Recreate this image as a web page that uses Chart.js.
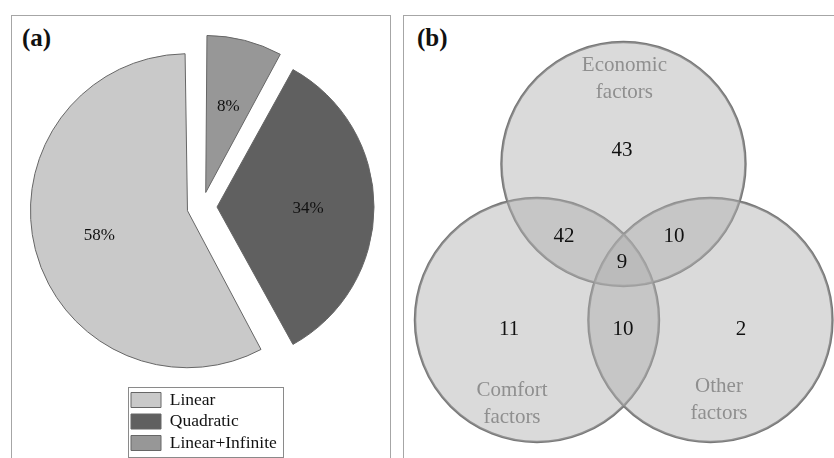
<!DOCTYPE html>
<html>
<head>
<meta charset="utf-8">
<script src="https://cdn.jsdelivr.net/npm/chart.js@4.4.1/dist/chart.umd.min.js"></script>
<style>
html,body{margin:0;padding:0;width:834px;height:458px;overflow:hidden;background:#fff;}
.frame{position:absolute;border:1px solid #a6a6a6;box-sizing:border-box;}
.tag{position:absolute;font-family:"Liberation Serif","Times New Roman",serif;font-weight:bold;font-size:25px;line-height:25px;color:#111;}
canvas{position:absolute;top:0;}
</style>
</head>
<body>
<div class="frame" style="left:11px;top:15px;width:380px;height:470px"></div>
<div class="frame" style="left:403px;top:15px;width:450px;height:470px"></div>
<div class="tag" style="left:22px;top:25px">(a)</div>
<div class="tag" style="left:417px;top:25px">(b)</div>
<canvas id="pie" style="left:0;width:400px;height:470px"></canvas>
<canvas id="venn" style="left:400px;width:434px;height:458px"></canvas>
<script>
// ---------- Panel (a): pie data ----------
const pieLabels = ['Linear+Infinite', 'Quadratic', 'Linear'];
const pieValues = [8, 34, 58];
const pieColors = ['#979797', '#606060', '#c9c9c9'];

// ---------- Panel (b): Venn data (units: circle radius = 1) ----------
const vennSetNames = [['Economic', 'factors'], ['Comfort', 'factors'], ['Other', 'factors']];
const vennSetX = [0.004, -0.705, 0.717];
const vennSetY = [0.787, -0.492, -0.492];
const vennSetR = [1.0, 1.0, 1.0];
const vennNameX = [0.012, -0.91, 0.787];
const vennNameY = [1.50, -1.16, -1.13];
const regionCounts = [43, 42, 10, 9, 11, 10, 2];
const regionX = [-0.008, -0.484, 0.418, -0.008, -0.934, 0.0, 0.967];
const regionY = [0.91, 0.205, 0.205, 0.0, -0.557, -0.557, -0.557];

const SERIF = '"Liberation Serif", "Times New Roman", serif';
const PIE_RADIUS = 157;
const PIE_OFFSET = 60;

const pieDecor = {
  id: 'pieDecor',
  afterDatasetUpdate(chart, args) {
    // keep all exploded slices at the same radius
    args.meta.data.forEach((arc) => {
      const off = (arc.options.offset || 0) / 4;
      const fix = 1 - Math.sin(Math.min(Math.PI, arc.circumference || 0));
      arc.outerRadius = PIE_RADIUS - off * fix;
    });
  },
  afterDraw(chart) {
    const ctx = chart.ctx;
    const meta = chart.getDatasetMeta(0);
    ctx.save();
    ctx.font = '17px ' + SERIF;
    ctx.fillStyle = '#111';
    ctx.textAlign = 'center';
    ctx.textBaseline = 'middle';
    meta.data.forEach((arc, i) => {
      const mid = (arc.startAngle + arc.endAngle) / 2;
      const d = (arc.options.offset || 0) / 4 + 0.58 * PIE_RADIUS;
      ctx.fillText(pieValues[i] + '%', arc.x + Math.cos(mid) * d, arc.y + Math.sin(mid) * d + 2);
    });
    const hb = chart.legend.legendHitBoxes;
    if (hb && hb.length) {
      const l = Math.min(...hb.map(b => b.left)) - 3;
      const t = Math.min(...hb.map(b => b.top)) - 4;
      const r = Math.max(...hb.map(b => b.left + b.width)) + 6;
      const btm = Math.max(...hb.map(b => b.top + b.height)) + 5;
      ctx.strokeStyle = '#8a8a8a';
      ctx.lineWidth = 1;
      ctx.strokeRect(Math.round(l) + 0.5, Math.round(t) + 0.5, Math.round(r - l), Math.round(btm - t));
    }
    ctx.restore();
  }
};

new Chart(document.getElementById('pie'), {
  type: 'pie',
  data: {
    labels: pieLabels,
    datasets: [{
      data: pieValues,
      backgroundColor: pieColors,
      borderColor: '#666',
      borderWidth: 1,
      offset: PIE_OFFSET,
      radius: PIE_RADIUS,
      clip: false
    }]
  },
  options: {
    responsive: false,
    animation: false,
    events: [],
    devicePixelRatio: 1,
    layout: { padding: { left: 127, right: 123, top: 26.75, bottom: 8.25 } },
    plugins: {
      tooltip: { enabled: false },
      legend: {
        position: 'bottom',
        align: 'start',
        reverse: true,
        labels: {
          boxWidth: 30,
          boxHeight: 15,
          padding: 4,
          color: '#111',
          font: { family: SERIF, size: 17.5 }
        }
      }
    }
  },
  plugins: [pieDecor]
});

// ---------- Venn ----------
const circlePoints = vennSetX.map((x, i) => ({ x: x, y: vennSetY[i] }));
const circleRadius = (ctx) => {
  const s = ctx.chart.scales.x;
  if (!s || ctx.dataIndex === undefined) return 0;
  const v = s.getPixelForValue(vennSetR[ctx.dataIndex]) - s.getPixelForValue(0);
  return isFinite(v) ? v : 0;
};

const vennText = {
  id: 'vennText',
  afterDatasetsDraw(chart) {
    const ctx = chart.ctx;
    const xs = chart.scales.x, ys = chart.scales.y;
    ctx.save();
    ctx.textAlign = 'center';
    ctx.textBaseline = 'middle';
    ctx.font = '21px ' + SERIF;
    ctx.fillStyle = '#8f8f8f';
    vennSetNames.forEach((lines, i) => {
      const px = xs.getPixelForValue(vennNameX[i]);
      const py = ys.getPixelForValue(vennNameY[i]);
      lines.forEach((ln, k) => {
        ctx.fillText(ln, px, py + 2 + (k - (lines.length - 1) / 2) * 27);
      });
    });
    ctx.fillStyle = '#111';
    regionCounts.forEach((v, i) => {
      ctx.fillText(String(v), xs.getPixelForValue(regionX[i]), ys.getPixelForValue(regionY[i]) + 2);
    });
    ctx.restore();
  }
};

new Chart(document.getElementById('venn'), {
  type: 'scatter',
  data: {
    datasets: [
      {
        data: circlePoints,
        pointBackgroundColor: 'rgba(175,175,175,0.46)',
        pointBorderWidth: 0,
        pointBorderColor: 'rgba(0,0,0,0)',
        pointRadius: circleRadius,
        pointHoverRadius: circleRadius,
        showLine: false,
        clip: false
      },
      {
        data: circlePoints,
        pointBackgroundColor: 'rgba(0,0,0,0)',
        pointBorderColor: '#787878',
        pointBorderWidth: 2.5,
        pointRadius: circleRadius,
        pointHoverRadius: circleRadius,
        showLine: false,
        clip: false
      }
    ]
  },
  options: {
    responsive: false,
    animation: false,
    events: [],
    devicePixelRatio: 1,
    layout: { padding: 0 },
    scales: {
      x: { type: 'linear', min: -1.828, max: 1.730, display: false },
      y: { type: 'linear', min: -1.623, max: 2.131, display: false }
    },
    plugins: { legend: { display: false }, tooltip: { enabled: false } }
  },
  plugins: [vennText]
});
</script>
</body>
</html>
